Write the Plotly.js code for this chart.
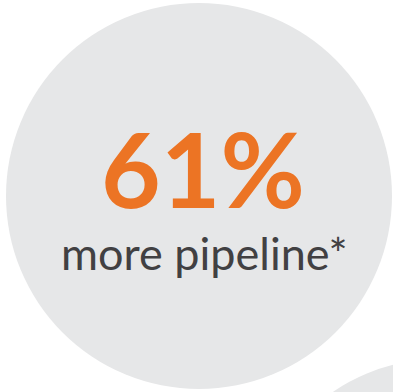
<!DOCTYPE html>
<html>
<head>
<meta charset="utf-8">
<script src="https://cdn.plot.ly/plotly-3.0.1.min.js"></script>
<style>html,body{margin:0;padding:0;background:#fff;}#chart{width:393px;height:392px;}</style>
</head>
<body>
<div id="chart"></div>
<script>
// Data
const statValues = [61];
const statUnits = ["%"];
const statLabels = ["more pipeline*"];

const bigCircle = {cx: 199, cy: 196, r: 193};
const cornerCircle = {cx: 440, cy: 550, r: 191};

const shapes = [bigCircle, cornerCircle].map(c => ({
  type: 'circle', xref: 'x', yref: 'y',
  x0: c.cx - c.r, x1: c.cx + c.r, y0: c.cy - c.r, y1: c.cy + c.r,
  fillcolor: '#e6e7e8', line: {width: 0}, layer: 'below'
}));

const annotations = [
  {x: 203, y: 168, xref: 'x', yref: 'y', showarrow: false,
   text: '<b>' + statValues[0] + statUnits[0] + '</b>',
   font: {family: 'Lato', size: 103, color: '#ec7424'},
   xanchor: 'center', yanchor: 'middle'},
  {x: 204, y: 253, xref: 'x', yref: 'y', showarrow: false,
   text: statLabels[0],
   font: {family: 'Lato', size: 45, color: '#414042'},
   xanchor: 'center', yanchor: 'middle'}
];

Plotly.newPlot('chart', [], {
  width: 393, height: 392,
  margin: {l: 0, r: 0, t: 0, b: 0},
  paper_bgcolor: '#ffffff', plot_bgcolor: '#ffffff',
  xaxis: {range: [0, 393], visible: false, fixedrange: true},
  yaxis: {range: [392, 0], visible: false, fixedrange: true},
  shapes: shapes,
  annotations: annotations,
  showlegend: false
}, {staticPlot: true, displayModeBar: false});
</script>
</body>
</html>
